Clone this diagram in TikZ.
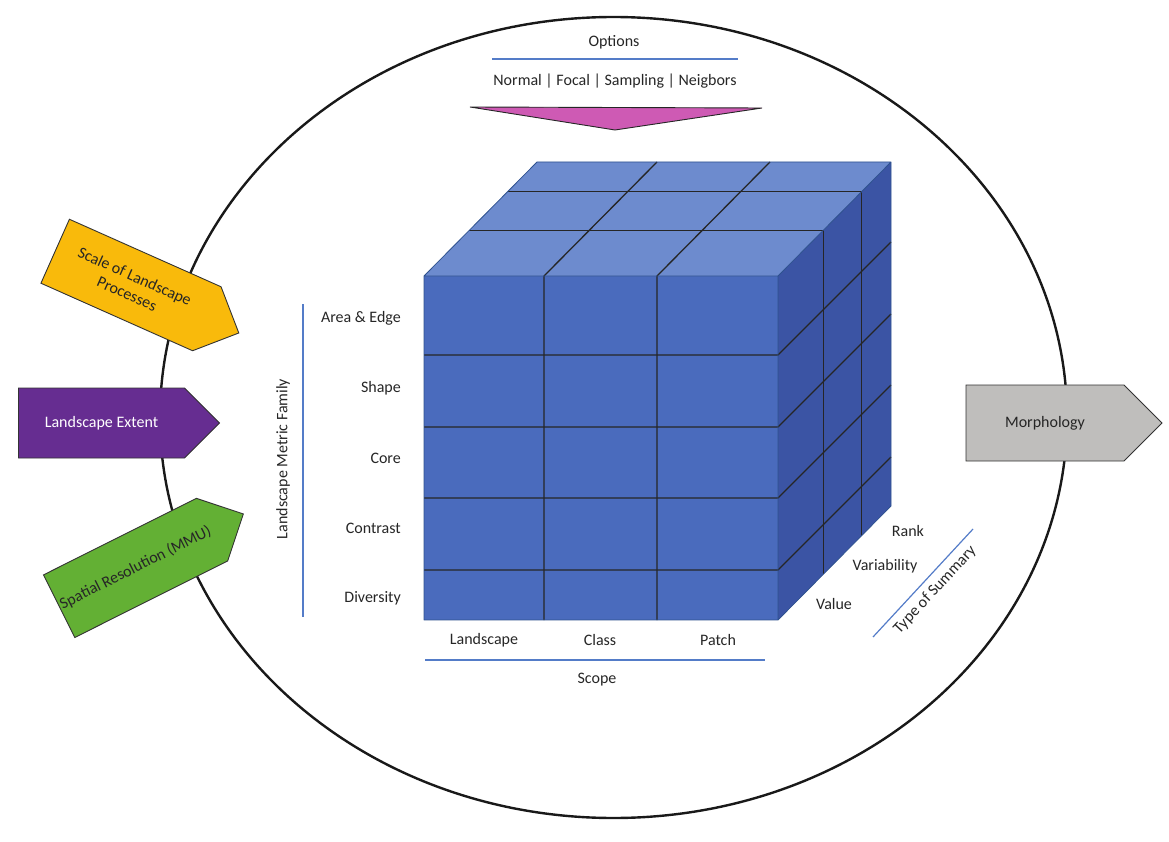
\documentclass[tikz,border=0pt]{standalone}
\usepackage{fontspec}
\setmainfont{Carlito}
\usetikzlibrary{shapes.symbols, positioning}
\definecolor{cubefront}{RGB}{74,107,189}
\definecolor{cubetop}{RGB}{109,139,206}
\definecolor{cuberight}{RGB}{59,84,164}
\definecolor{cubeedge}{RGB}{47,82,143}
\definecolor{guideblue}{RGB}{84,124,200}
\definecolor{txtgray}{RGB}{38,38,38}
\definecolor{optpink}{RGB}{206,90,180}
\definecolor{extpurple}{RGB}{102,45,145}
\definecolor{scaleyellow}{RGB}{249,186,11}
\definecolor{resgreen}{RGB}{99,176,52}
\definecolor{morphgray}{RGB}{191,190,188}

\begin{document}
\begin{tikzpicture}[x=1pt, y=-1pt,
    lbl/.style={font=\fontsize{16}{19}\selectfont, text=txtgray, inner sep=0pt},
    guide/.style={draw=guideblue, line width=1.2pt},
    gridline/.style={draw=black!85, line width=1.3pt},
    tag/.style={signal, signal to=east, draw=black!80, line width=0.9pt,
        minimum width=201pt, minimum height=70pt, inner sep=2pt,
        font=\fontsize{16}{19}\selectfont, text=txtgray, align=center}]
    \useasboundingbox (0,0) rectangle (1169,842);

    % Outer ring
    \draw[line width=2.4pt, black!90] (613.5,417.5) ellipse [x radius=453.5, y radius=400.5];

    % Cube faces
    \fill[cubefront] (424,276) rectangle (778,620);
    \fill[cubetop] (424,276) -- (537,162) -- (891,162) -- (778,276) -- cycle;
    \fill[cuberight] (778,276) -- (891,162) -- (891,506) -- (778,620) -- cycle;

    % Grid on the cube
    \foreach \y in {355,427,498,570}
        \draw[gridline] (424,\y) -- (778,\y) -- (891,{\y-113});
    \foreach \x in {544,657}
        \draw[gridline] (\x,620) -- (\x,276) -- ({\x+113},162);
    \foreach \d in {0.4,0.74}
        \draw[gridline] ({424+113*\d},{276-114*\d}) -- ({778+113*\d},{276-114*\d})
            -- ({778+113*\d},{620-114*\d});

    % Cube edges
    \draw[cubeedge, line width=0.8pt, line join=round]
        (424,620) -- (424,276) -- (537,162) -- (891,162) -- (891,506) -- (778,620) -- cycle
        (424,276) -- (778,276) -- (891,162) (778,276) -- (778,620);

    % Options
    \node[lbl] (options) at (614,42) {Options};
    \draw[guide] (492,59) -- (738,59);
    \node[lbl] (modes) at (615,81) {Normal | Focal | Sampling | Neigbors};
    \fill[optpink, draw=black!85, line width=0.9pt] (470,107) -- (762,108) -- (615,130) -- cycle;

    % Metric family
    \node[lbl, rotate=90] (family) at (283,459) {Landscape Metric Family};
    \draw[guide] (303,304) -- (303,617);
    \node[lbl, anchor=east] (area) at (401,318) {Area \& Edge};
    \node[lbl, anchor=east] (shape) at (401,388) {Shape};
    \node[lbl, anchor=east] (core) at (401,458) {Core};
    \node[lbl, anchor=east] (contrast) at (401,528) {Contrast};
    \node[lbl, anchor=east] (diversity) at (401,598) {Diversity};

    % Scope
    \node[lbl] (landscape) at (484,640) {Landscape};
    \node[lbl] (class) at (600,640) {Class};
    \node[lbl] (patch) at (718,640) {Patch};
    \draw[guide] (425,660) -- (765,660);
    \node[lbl] (scope) at (597,680) {Scope};

    % Type of summary
    \node[lbl] (rank) at (908,531) {Rank};
    \node[lbl] (variability) at (885,566) {Variability};
    \node[lbl] (value) at (834,604) {Value};
    \draw[guide] (873,637) -- (973,529);
    \node[lbl, rotate=47] (summary) at (935,590) {Type of Summary};

    % Side tags
    \node[tag, fill=scaleyellow, rotate=-24] (scale) at (131,285) {Scale of Landscape\\Processes};
    \node[tag, fill=extpurple, text=white] (extent) at (101.5,423) {Landscape Extent};
    \node[tag, fill=resgreen, rotate=26.6] (resolution) at (135.6,567.9) {Spatial Resolution (MMU)};
    \node[tag, fill=morphgray, minimum width=196pt, minimum height=76pt] (morph) at (1045,423) {Morphology};
\end{tikzpicture}
\end{document}
